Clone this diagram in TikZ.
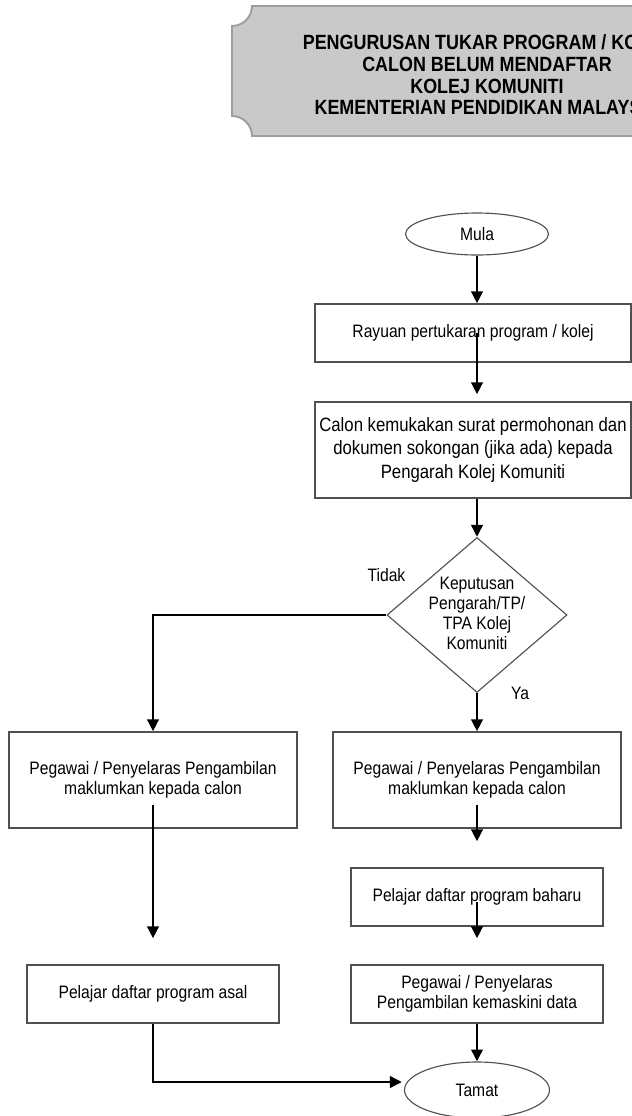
\documentclass[tikz,border=0pt]{standalone}
\usepackage{fontspec}
\setmainfont{Liberation Sans}[FakeStretch=0.87]
\usepackage{tikz}
\usetikzlibrary{shapes,calc}
\usetikzlibrary{arrows.meta,positioning}
\definecolor{kelabu}{RGB}{201,201,201}
\definecolor{kelabutepi}{RGB}{158,158,158}
\definecolor{garis}{RGB}{80,80,80}

\begin{document}
\begin{tikzpicture}[scale=1,
    kotak/.style={draw=garis, line width=0.9pt, align=center, inner sep=0pt,
      font=\fontsize{12.8}{14}\selectfont},
    bujur/.style={ellipse, draw=garis, line width=0.8pt, inner sep=0pt,
      font=\fontsize{12.8}{14}\selectfont},
    keputusanbox/.style={diamond, draw=garis, line width=0.8pt, inner sep=0pt},
    label/.style={font=\fontsize{12.8}{14}\selectfont, inner sep=0pt},
    aliran/.style={-{Triangle[length=8.5pt,width=8pt]}, line width=2pt}]
        % Page and clipping
        \useasboundingbox (0,0) rectangle (15.8,-27.9);
        \clip (0,0) rectangle (15.8,-27.9);
        % Title banner
        \draw[fill=kelabu, draw=kelabutepi, line width=1.4pt]
          (6.3,-0.15) -- (18.05,-0.15) arc (180:270:0.5) -- (18.55,-2.9)
          arc (90:180:0.5) -- (6.3,-3.4) arc (0:90:0.5) -- (5.8,-0.65)
          arc (270:360:0.5) -- cycle;
        \node[align=center, font=\bfseries\fontsize{14.65}{15.4}\selectfont] (tajuk) at (12.175,-1.875)
          {PENGURUSAN TUKAR PROGRAM / KOLEJ\\CALON BELUM MENDAFTAR\\KOLEJ KOMUNITI\\KEMENTERIAN PENDIDIKAN MALAYSIA};
        % Main column
        \node[bujur, minimum width=3.575cm, minimum height=1.05cm] (mula) at (11.925,-5.85) {Mula};
        \node[kotak, minimum width=7.9cm, minimum height=1.45cm] (rayuan) at (11.825,-8.325)
          {Rayuan pertukaran program / kolej};
        \node[kotak, minimum width=7.9cm, minimum height=2.4cm,
          font=\fontsize{13.7}{16.6}\selectfont] (calon) at (11.825,-11.25)
          {Calon kemukakan surat permohonan dan\\dokumen sokongan (jika ada) kepada\\Pengarah Kolej Komuniti};
        \node[keputusanbox, minimum width=4.5cm, minimum height=3.875cm] (keputusan) at (11.925,-15.375) {};
        \node[label, align=center, font=\fontsize{12.8}{14.2}\selectfont] (keputusanteks) at (11.925,-15.325)
          {Keputusan\\Pengarah/TP/\\TPA Kolej\\Komuniti};
        \node[label] (tidak) at ($(keputusan.west)+(0,1.0)$) {Tidak};
        \node[label] (ya) at ($(keputusan.south)+(1.075,0)$) {Ya};
        % Two branches
        \node[kotak, minimum width=7.2cm, minimum height=2.4cm] (pegawaikiri) at (3.825,-19.5)
          {Pegawai / Penyelaras Pengambilan\\maklumkan kepada calon};
        \node[kotak, minimum width=7.2cm, minimum height=2.4cm] (pegawaikanan) at (11.925,-19.5)
          {Pegawai / Penyelaras Pengambilan\\maklumkan kepada calon};
        \node[kotak, minimum width=6.3cm, minimum height=1.45cm] (baharu) at (11.925,-22.425)
          {Pelajar daftar program baharu};
        \node[kotak, minimum width=6.3cm, minimum height=1.45cm] (kemaskini) at (11.925,-24.85)
          {Pegawai / Penyelaras\\Pengambilan kemaskini data};
        \node[kotak, minimum width=6.3cm, minimum height=1.45cm] (asal) at (3.825,-24.85)
          {Pelajar daftar program asal};
        \node[bujur, minimum width=3.625cm, minimum height=1.4cm] (tamat) at (11.925,-27.25) {Tamat};
        % Connectors
        \draw[aliran] (mula.south) -- (mula.south |- rayuan.north);
        \draw[aliran] (mula.south |- rayuan.center) -- ($(mula.south |- calon.north)+(0,0.175)$);
        \draw[aliran] (mula.south |- calon.south) -- (keputusan.north);
        \draw[aliran] (keputusan.west) -| (pegawaikiri.north);
        \draw[aliran] (keputusan.south) -- (pegawaikanan.north);
        \draw[aliran] ($(pegawaikiri.center)+(0,-0.625)$) -- ($(asal.north)+(0,0.65)$);
        \draw[aliran] ($(pegawaikanan.center)+(0,-0.625)$) -- ($(baharu.north)+(0,0.65)$);
        \draw[aliran] ($(baharu.center)+(0,-0.125)$) -- ($(kemaskini.north)+(0,0.65)$);
        \draw[aliran] (kemaskini.south) -- (tamat.north);
        \draw[aliran] (asal.south) |- ($(tamat.west)+(-0.05,0.2)$);
      \end{tikzpicture}
\end{document}
